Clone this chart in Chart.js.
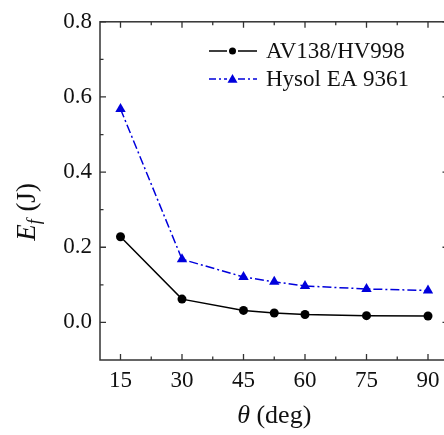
<!DOCTYPE html>
<html>
<head>
<meta charset="utf-8">
<script src="https://cdn.jsdelivr.net/npm/chart.js@4/dist/chart.umd.min.js"></script>
<style>
  html, body { margin: 0; padding: 0; background: #fff; overflow: hidden; }
  #wrap { width: 460px; height: 435px; }
</style>
</head>
<body>
<div id="wrap"><canvas id="c" width="460" height="435"></canvas></div>
<script>
// Loading angle (deg)
const angles = [15, 30, 45, 52.5, 60, 75, 90];
// Fracture energy E_f (J) per adhesive
const av138 = [0.228, 0.062, 0.032, 0.025, 0.021, 0.018, 0.017];
const hysol = [0.568, 0.168, 0.121, 0.108, 0.097, 0.089, 0.085];

const seriesNames = ['AV138/HV998', 'Hysol EA 9361'];
const xTicks = [15, 30, 45, 60, 75, 90];
const xMinorTicks = [22.5, 37.5, 52.5, 67.5, 82.5];
const yTicks = [0.0, 0.2, 0.4, 0.6, 0.8];
const yMinorTicks = [0.1, 0.3, 0.5, 0.7];

const SERIF = "'Liberation Serif', 'Times New Roman', serif";
const BLUE = '#0000dc';
const AXIS = '#333333';

// Frame with inward major/minor ticks on all four sides
const framePlugin = {
  id: 'frame',
  afterDraw(chart) {
    const { ctx, chartArea: a, scales: { x, y } } = chart;
    ctx.save();
    ctx.strokeStyle = AXIS;
    ctx.lineWidth = 1.5;
    ctx.strokeRect(a.left, a.top, a.right - a.left, a.bottom - a.top);
    ctx.lineWidth = 1.3;
    const major = 6, minor = 3.5;
    ctx.beginPath();
    const xt = (v, len) => {
      const px = x.getPixelForValue(v);
      ctx.moveTo(px, a.bottom); ctx.lineTo(px, a.bottom - len);
      ctx.moveTo(px, a.top); ctx.lineTo(px, a.top + len);
    };
    const yt = (v, len) => {
      const py = y.getPixelForValue(v);
      ctx.moveTo(a.left, py); ctx.lineTo(a.left + len, py);
      ctx.moveTo(a.right, py); ctx.lineTo(a.right - len, py);
    };
    xTicks.forEach(v => xt(v, major));
    xMinorTicks.forEach(v => xt(v, minor));
    yTicks.forEach(v => yt(v, major));
    yMinorTicks.forEach(v => yt(v, minor));
    ctx.stroke();
    ctx.restore();
  }
};

// Axis titles with italic symbols and subscript
const titlesPlugin = {
  id: 'titles',
  afterDraw(chart) {
    const { ctx, chartArea: a } = chart;
    ctx.save();
    ctx.fillStyle = '#111';
    ctx.textBaseline = 'middle';

    // x title: θ (deg)
    const fIt = 'italic 26px ' + SERIF, fUp = '26px ' + SERIF;
    ctx.font = fIt; const w1 = ctx.measureText('\u03b8').width;
    ctx.font = fUp; const w2 = ctx.measureText(' (deg)').width;
    const sx = (a.left + a.right) / 2 - (w1 + w2) / 2;
    const ty = 416;
    ctx.textAlign = 'left';
    ctx.font = fIt; ctx.fillText('\u03b8', sx, ty);
    ctx.font = fUp; ctx.fillText(' (deg)', sx + w1, ty);

    // y title: E_f (J), rotated
    ctx.translate(28, 212);
    ctx.rotate(-Math.PI / 2);
    const fEy = 'italic 27px ' + SERIF, fJ = '27px ' + SERIF;
    const fSub = 'italic 18px ' + SERIF;
    ctx.font = fEy; const e = ctx.measureText('E').width;
    ctx.font = fSub; const f = ctx.measureText('f').width;
    ctx.font = fJ; const j = ctx.measureText(' (J)').width;
    let px = -(e + f + 1 + j) / 2;
    ctx.font = fEy; ctx.fillText('E', px, 0); px += e;
    ctx.font = fSub; ctx.fillText('f', px, 7); px += f + 1;
    ctx.font = fJ; ctx.fillText(' (J)', px, 0);
    ctx.restore();
  }
};

// Legend: line segments broken around a marker, then the label
const legendPlugin = {
  id: 'lineLegend',
  afterDraw(chart) {
    const { ctx } = chart;
    const rows = [
      { y: 51, color: '#000', dash: [], marker: 'circle', name: seriesNames[0] },
      { y: 79, color: BLUE, dash: [7, 3, 2, 3], marker: 'triangle', name: seriesNames[1] }
    ];
    ctx.save();
    rows.forEach(r => {
      ctx.strokeStyle = r.color;
      ctx.fillStyle = r.color;
      ctx.lineWidth = 1.5;
      ctx.setLineDash(r.dash);
      ctx.beginPath();
      ctx.moveTo(209, r.y); ctx.lineTo(227, r.y);
      ctx.moveTo(238, r.y); ctx.lineTo(257, r.y);
      ctx.stroke();
      ctx.setLineDash([]);
      ctx.beginPath();
      if (r.marker === 'circle') {
        ctx.arc(232.5, r.y, 3.5, 0, Math.PI * 2);
      } else {
        ctx.moveTo(232.5, r.y - 5);
        ctx.lineTo(237.5, r.y + 3.8);
        ctx.lineTo(227.5, r.y + 3.8);
        ctx.closePath();
      }
      ctx.fill();
      ctx.fillStyle = '#111';
      ctx.font = '23px ' + SERIF;
      ctx.textAlign = 'left';
      ctx.textBaseline = 'middle';
      ctx.fillText(r.name, 266, r.y + 1);
    });
    ctx.restore();
  }
};

function draw() {
  new Chart(document.getElementById('c'), {
    type: 'line',
    data: {
      datasets: [
        {
          label: seriesNames[0],
          data: angles.map((a, i) => ({ x: a, y: av138[i] })),
          borderColor: '#000',
          backgroundColor: '#000',
          borderWidth: 1.5,
          pointStyle: 'circle',
          pointRadius: 4.5,
          pointBorderWidth: 0,
          tension: 0
        },
        {
          label: seriesNames[1],
          data: angles.map((a, i) => ({ x: a, y: hysol[i] })),
          borderColor: BLUE,
          backgroundColor: BLUE,
          borderWidth: 1.5,
          borderDash: [9, 3, 2, 3],
          pointStyle: 'triangle',
          pointRadius: 6,
          pointBorderWidth: 0,
          tension: 0
        }
      ]
    },
    options: {
      responsive: false,
      animation: false,
      devicePixelRatio: 1,
      layout: { padding: { top: 15, right: 11.5, left: 0, bottom: 0 } },
      plugins: { legend: { display: false }, tooltip: { enabled: false } },
      scales: {
        x: {
          type: 'linear',
          min: 10,
          max: 95,
          grid: { display: false, drawTicks: false },
          border: { display: false },
          afterBuildTicks: s => { s.ticks = xTicks.map(v => ({ value: v })); },
          afterFit: s => { s.height = 75; },
          ticks: {
            padding: 7,
            color: '#111',
            font: { family: SERIF, size: 23 },
            maxRotation: 0,
            callback: v => String(v)
          }
        },
        y: {
          type: 'linear',
          min: -0.1,
          max: 0.8,
          grid: { display: false, drawTicks: false },
          border: { display: false },
          afterBuildTicks: s => { s.ticks = yTicks.map(v => ({ value: v })); },
          afterFit: s => { s.width = 100; },
          ticks: {
            padding: 8,
            color: '#111',
            font: { family: SERIF, size: 23 },
            callback: v => Number(v).toFixed(1)
          }
        }
      }
    },
    plugins: [framePlugin, titlesPlugin, legendPlugin]
  });
}

Promise.all([
  document.fonts.load('23px "Liberation Serif"'),
  document.fonts.load('italic 26px "Liberation Serif"')
]).then(draw, draw);
</script>
</body>
</html>
